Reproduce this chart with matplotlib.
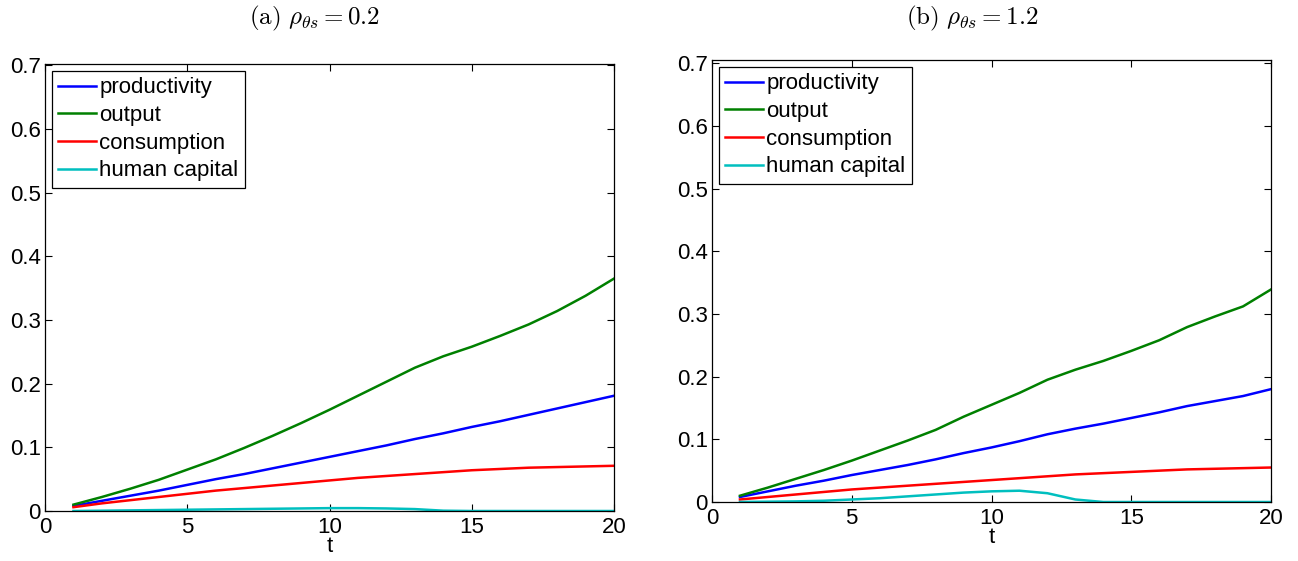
import matplotlib
matplotlib.use("Agg")
import matplotlib.pyplot as plt

plt.rcParams['font.family'] = ['Liberation Sans', 'DejaVu Sans']
plt.rcParams['mathtext.fontset'] = 'cm'

t = list(range(1, 21))

# Panel (a) rho = 0.2
prod_a = [0.008, 0.016, 0.024, 0.032, 0.041, 0.050, 0.058, 0.067, 0.076, 0.085,
          0.094, 0.103, 0.113, 0.122, 0.132, 0.141, 0.151, 0.161, 0.171, 0.181]
out_a = [0.010, 0.022, 0.035, 0.049, 0.065, 0.081, 0.099, 0.118, 0.138, 0.159,
         0.181, 0.203, 0.225, 0.243, 0.258, 0.275, 0.293, 0.314, 0.338, 0.365]
cons_a = [0.006, 0.012, 0.017, 0.022, 0.027, 0.032, 0.036, 0.040, 0.044, 0.048,
          0.052, 0.055, 0.058, 0.061, 0.064, 0.066, 0.068, 0.069, 0.070, 0.071]
hc_a = [0.0, 0.0005, 0.001, 0.0015, 0.002, 0.0025, 0.003, 0.0035, 0.004, 0.0045,
        0.0045, 0.004, 0.003, 0.0005, 0.0, 0.0, 0.0, 0.0, 0.0, 0.0]

# Panel (b) rho = 1.2
prod_b = [0.008, 0.017, 0.026, 0.034, 0.043, 0.051, 0.059, 0.068, 0.078, 0.087,
          0.097, 0.108, 0.117, 0.125, 0.134, 0.143, 0.153, 0.161, 0.169, 0.180]
out_b = [0.010, 0.023, 0.037, 0.051, 0.066, 0.082, 0.098, 0.115, 0.136, 0.155,
         0.174, 0.195, 0.211, 0.225, 0.241, 0.258, 0.279, 0.296, 0.312, 0.339]
cons_b = [0.004, 0.008, 0.012, 0.016, 0.020, 0.023, 0.026, 0.029, 0.032, 0.035,
          0.038, 0.041, 0.044, 0.046, 0.048, 0.050, 0.052, 0.053, 0.054, 0.055]
hc_b = [0.0, 0.0005, 0.001, 0.002, 0.004, 0.006, 0.009, 0.012, 0.015, 0.017,
        0.018, 0.014, 0.004, 0.0, 0.0, 0.0, 0.0, 0.0, 0.0, 0.0]

labels = ['productivity', 'output', 'consumption', 'human capital']
colors = ['#0000ff', '#008000', '#ff0000', '#00bfbf']
titles = [r'$\mathrm{(a)}\ \rho_{\theta s}=0.2$', r'$\mathrm{(b)}\ \rho_{\theta s}=1.2$']
xticks = [0, 5, 10, 15, 20]
yticks = [0, 0.1, 0.2, 0.3, 0.4, 0.5, 0.6, 0.7]
yticklabels = ['0', '0.1', '0.2', '0.3', '0.4', '0.5', '0.6', '0.7']

fig = plt.figure(figsize=(12.98, 5.61), dpi=100)
W, H = 1298, 561
rects = [(45, 64, 614, 511), (712, 60, 1271, 502)]
ytops = [0.702, 0.705]
title_x = [315, 972]
data = [[prod_a, out_a, cons_a, hc_a], [prod_b, out_b, cons_b, hc_b]]

for (x0, y0, x1, y1), series, title, ytop, tx in zip(rects, data, titles, ytops, title_x):
    ax = fig.add_axes([x0 / W, 1 - y1 / H, (x1 - x0) / W, (y1 - y0) / H])
    for s, c, l in zip(series, colors, labels):
        ax.plot(t, s, color=c, lw=1.8, label=l)
    ax.set_xlim(0, 20)
    ax.set_ylim(0, ytop)
    ax.set_xticks(xticks)
    ax.set_yticks(yticks)
    ax.set_yticklabels(yticklabels)
    ax.tick_params(direction='in', top=True, right=True, labelsize=16, length=5,
                   width=0.8)
    ax.tick_params(axis='x', pad=4)
    ax.tick_params(axis='y', pad=3)
    for sp in ax.spines.values():
        sp.set_linewidth(0.9)
    ax.set_xlabel('t', fontsize=16, labelpad=-1)
    fig.text(tx / W, (H - 18) / H, title, ha='center', va='center', fontsize=18)
    leg = ax.legend(loc='upper left', fontsize=16, frameon=True, fancybox=False,
                    edgecolor='black', framealpha=1, handlelength=1.7,
                    handletextpad=0.15, labelspacing=0.3, borderpad=0.3,
                    borderaxespad=0.3)
    leg.get_frame().set_linewidth(0.9)

fig.savefig('out.png', dpi=100)
